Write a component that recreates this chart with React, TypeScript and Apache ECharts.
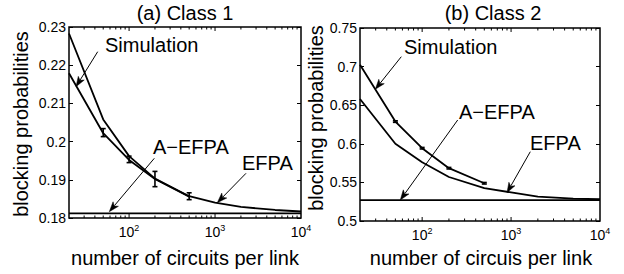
import React, { useEffect, useRef } from 'react';
import * as echarts from 'echarts';

// ---- data ----
const nValues = [20, 50, 100, 200, 500, 1000, 2000, 5000, 10000];
const simN = [20, 50, 100, 200, 500];
const errN = [50, 100, 200, 500];

const class1Sim = [0.2179, 0.2022, 0.1952, 0.1902, 0.1856];
const class1Efpa = [0.2283, 0.2058, 0.1962, 0.1903, 0.1857, 0.184, 0.1829, 0.1821, 0.1817];
const class1Aefpa = 0.1812;
const class1ErrLow = [0.2013, 0.1945, 0.1882, 0.1848];
const class1ErrHigh = [0.2034, 0.1962, 0.1922, 0.1866];

const class2Sim = [0.7024, 0.6288, 0.5943, 0.5684, 0.5489];
const class2Efpa = [0.658, 0.6, 0.576, 0.557, 0.5425, 0.537, 0.5315, 0.529, 0.5282];
const class2Aefpa = 0.527;
const class2ErrLow = [0.6278, 0.5933, 0.5674, 0.5479];
const class2ErrHigh = [0.6298, 0.5953, 0.5694, 0.5499];

const xMajorTicks = [100, 1000];
const xMinorTicks = [30, 40, 50, 60, 70, 80, 90, 200, 300, 400, 500, 600, 700, 800, 900, 2000, 3000, 4000, 5000, 6000, 7000, 8000, 9000];

const yRange1 = { min: 0.18, max: 0.23, interval: 0.01 };
const yRange2 = { min: 0.5, max: 0.75, interval: 0.05 };

const FONT = 'Liberation Sans, Arial, Helvetica, sans-serif';

function zip(xs: number[], ys: number[]) {
  return xs.map((x, i) => [x, ys[i]]);
}

function arrow(x1: number, y1: number, x2: number, y2: number) {
  const dx = x2 - x1;
  const dy = y2 - y1;
  const L = Math.sqrt(dx * dx + dy * dy);
  const ux = dx / L;
  const uy = dy / L;
  const hl = 10;
  const hw = 3.5;
  const bx = x2 - ux * hl;
  const by = y2 - uy * hl;
  return {
    type: 'group',
    children: [
      { type: 'line', shape: { x1, y1, x2: bx + ux * 2, y2: by + uy * 2 }, style: { stroke: '#000', lineWidth: 1 } },
      {
        type: 'polygon',
        shape: {
          points: [
            [x2, y2],
            [bx - uy * hw, by + ux * hw],
            [bx + ux * 2.5, by + uy * 2.5],
            [bx + uy * hw, by - ux * hw],
          ],
        },
        style: { fill: '#000', stroke: '#000', lineWidth: 0.5 },
      },
    ],
  };
}

function text(t: string, x: number, y: number, size: number, align = 'left', rotation = 0) {
  return {
    type: 'text',
    x,
    y,
    rotation,
    style: { text: t, fill: '#000', fontSize: size, fontFamily: FONT, align, verticalAlign: 'middle' },
  };
}

function logLabel(v: number) {
  const e = Math.log10(v);
  const r = Math.round(e);
  if (Math.abs(e - r) > 1e-6) return '';
  return '{b|10}{s|' + r + '}';
}

export default function App() {
  const ref = useRef<HTMLDivElement>(null);
  useEffect(() => {
    if (!ref.current) return;
    const chart = echarts.init(ref.current, undefined, { renderer: 'svg' });
    const ranges = [yRange1, yRange2];

    const xAxisCfg = (gi: number) => ({
      type: 'log',
      logBase: 10,
      gridIndex: gi,
      min: 20,
      max: 10000,
      axisLine: { show: false },
      axisTick: { show: false },
      splitLine: { show: false },
      axisLabel: {
        formatter: logLabel,
        margin: 5,
        color: '#000',
        fontFamily: FONT,
        showMinLabel: false,
        rich: {
          b: { fontSize: 14, fontFamily: FONT, color: '#000' },
          s: { fontSize: 9, fontFamily: FONT, color: '#000', padding: [0, 0, 8, 0] },
        },
      },
    });

    const yAxisCfg = (gi: number, right: boolean) => ({
      type: 'value',
      gridIndex: gi,
      position: right ? 'right' : 'left',
      min: ranges[gi].min,
      max: ranges[gi].max,
      interval: ranges[gi].interval,
      axisLine: { show: false },
      axisTick: { show: true, inside: true, length: 4, lineStyle: { color: '#000', width: 1 } },
      splitLine: { show: false },
      axisLabel: {
        show: !right,
        color: '#000',
        fontSize: 14,
        fontFamily: FONT,
        margin: 3,
      },
    });

    const lineSeries = (gi: number, data: number[][]) => ({
      type: 'line',
      xAxisIndex: gi,
      yAxisIndex: gi * 2,
      data,
      symbol: 'none',
      lineStyle: { color: '#000', width: 1.8 },
      silent: true,
    });

    const tickSeries = (gi: number) => {
      const r = ranges[gi];
      const data = [
        ...xMajorTicks.map((v) => [v, r.min, 1]),
        ...xMinorTicks.map((v) => [v, r.min, 0]),
      ];
      return {
        type: 'custom',
        xAxisIndex: gi,
        yAxisIndex: gi * 2,
        silent: true,
        data,
        renderItem: (params: any, api: any) => {
          const v = api.value(0);
          const len = api.value(2) ? 4 : 2.5;
          const b = api.coord([v, r.min]);
          const t = api.coord([v, r.max]);
          const st = { stroke: '#000', lineWidth: 1 };
          return {
            type: 'group',
            children: [
              { type: 'line', shape: { x1: b[0], y1: b[1], x2: b[0], y2: b[1] - len }, style: st },
              { type: 'line', shape: { x1: t[0], y1: t[1], x2: t[0], y2: t[1] + len }, style: st },
            ],
          };
        },
      };
    };

    const errSeries = (gi: number, lo: number[], hi: number[]) => ({
      type: 'custom',
      xAxisIndex: gi,
      yAxisIndex: gi * 2,
      silent: true,
      data: errN.map((x, i) => [x, lo[i], hi[i]]),
      renderItem: (params: any, api: any) => {
        const x = api.value(0);
        const pl = api.coord([x, api.value(1)]);
        const ph = api.coord([x, api.value(2)]);
        const w = 2.5;
        const st = { stroke: '#000', lineWidth: 1.6 };
        return {
          type: 'group',
          children: [
            { type: 'line', shape: { x1: pl[0], y1: pl[1], x2: ph[0], y2: ph[1] }, style: st },
            { type: 'line', shape: { x1: pl[0] - w, y1: pl[1], x2: pl[0] + w, y2: pl[1] }, style: st },
            { type: 'line', shape: { x1: ph[0] - w, y1: ph[1], x2: ph[0] + w, y2: ph[1] }, style: st },
          ],
        };
      },
    });

    const option: any = {
      animation: false,
      backgroundColor: '#fff',
      textStyle: { fontFamily: FONT },
      grid: [
        { left: 69, top: 27, width: 232, height: 191, show: true, borderColor: '#000', borderWidth: 1.5, backgroundColor: 'transparent', containLabel: false },
        { left: 360, top: 28, width: 240, height: 193, show: true, borderColor: '#000', borderWidth: 1.5, backgroundColor: 'transparent', containLabel: false },
      ],
      xAxis: [xAxisCfg(0), xAxisCfg(1)],
      yAxis: [yAxisCfg(0, false), yAxisCfg(0, true), yAxisCfg(1, false), yAxisCfg(1, true)],
      series: [
        lineSeries(0, zip(simN, class1Sim)),
        lineSeries(0, zip(nValues, class1Efpa)),
        lineSeries(0, [[20, class1Aefpa], [10000, class1Aefpa]]),
        errSeries(0, class1ErrLow, class1ErrHigh),
        tickSeries(0),
        lineSeries(1, zip(simN, class2Sim)),
        lineSeries(1, zip(nValues, class2Efpa)),
        lineSeries(1, [[20, class2Aefpa], [10000, class2Aefpa]]),
        errSeries(1, class2ErrLow, class2ErrHigh),
        tickSeries(1),
      ],
      graphic: [
        text('(a) Class 1', 185, 13, 20, 'center'),
        text('(b) Class 2', 493, 13, 20, 'center'),
        text('number of circuits per link', 185, 258, 20, 'center'),
        text('number of circuis per link', 481, 258, 20, 'center'),
        text('blocking probabilities', 21, 124, 20, 'center', Math.PI / 2),
        text('blocking probabilities', 316, 118, 20, 'center', Math.PI / 2),
        text('Simulation', 105, 45, 20),
        text('A\u2212EFPA', 153, 147, 20),
        text('EFPA', 242, 163, 20),
        text('Simulation', 404, 47, 20),
        text('A\u2212EFPA', 459, 112, 20),
        text('EFPA', 530, 143, 20),
        arrow(97.7, 51.7, 76, 86.7),
        arrow(154.3, 158.3, 109.3, 211.7),
        arrow(246, 173.3, 217.3, 202.7),
        arrow(401.3, 56.7, 375.3, 89.3),
        arrow(457.7, 120, 400.3, 200),
        arrow(530.3, 151.7, 507, 192.7),
      ],
    };
    chart.setOption(option);
    return () => chart.dispose();
  }, []);
  return <div ref={ref} style={{ position: 'absolute', left: 0, top: 0, width: 624, height: 274 }} />;
}
